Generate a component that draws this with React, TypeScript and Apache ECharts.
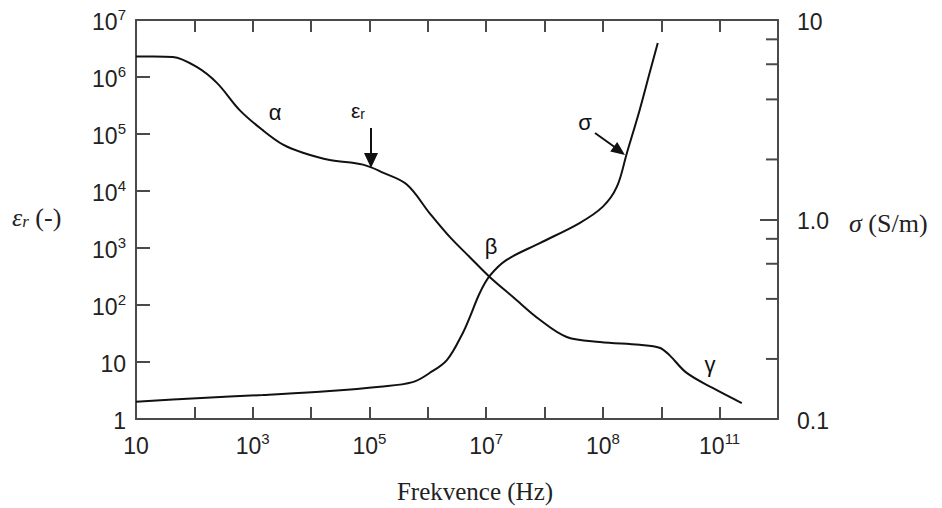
import React, { useEffect, useRef } from "react";
import * as echarts from "echarts";

// Frequency is stored as log10(f / Hz); the x axis runs in decades.
const X_MIN = 1;
const X_MAX = 12;

// Tick labels of the frequency axis, keyed by decade position.
const freqTickDecades = [1, 3, 5, 7, 9, 11];
const freqTickBase = ["10", "10", "10", "10", "10", "10"];
const freqTickExp = ["", "3", "5", "7", "8", "11"];

// Relative permittivity εr
const epsLogFreq = [
  1.0, 1.3, 1.63, 2.04, 2.39, 2.78, 3.17, 3.52, 3.86, 4.32, 4.89, 5.23, 5.64,
  6.03, 6.38, 6.72, 7.06, 7.46, 7.92, 8.38, 8.95, 9.63, 9.97, 10.14, 10.43,
  10.88, 11.38,
];
const epsValues = [
  2.3e6, 2.3e6, 2.25e6, 1.5e6, 7.8e5, 2.6e5, 1.17e5, 6.5e4, 4.7e4, 3.5e4,
  2.9e4, 2.1e4, 1.3e4, 4100, 1550, 690, 310, 138, 55, 27.5, 22.4, 20, 17.8,
  13.2, 6.5, 3.5, 1.9,
];

// Conductivity σ (S/m)
const sigmaLogFreq = [
  1.0, 2.04, 3.17, 4.32, 5.18, 5.74, 6.03, 6.33, 6.6, 6.72, 6.89, 7.06,
  7.35, 7.92, 8.6, 9.0, 9.24, 9.41, 9.63, 9.8, 9.94,
];
const sigmaValues = [
  0.122, 0.127, 0.132, 0.138, 0.145, 0.153, 0.17, 0.198, 0.27, 0.324,
  0.428, 0.521, 0.627, 0.762, 0.96, 1.16, 1.46, 2.15, 3.54, 5.42, 7.67,
];

// Intermediate ticks on the σ axis
const sigmaMinorTicks = [0.2, 0.4, 0.6, 0.8, 2, 4, 6, 8];

const AXIS_COLOR = "#4a4a4a";
const CURVE_COLOR = "#111";
const SANS = "'Liberation Sans', Arial, sans-serif";
const SERIF = "'Liberation Serif', 'Times New Roman', serif";

const tickRich = {
  b: { fontFamily: SANS, fontSize: 23, color: "#222", lineHeight: 26, verticalAlign: "bottom" as const },
  s: { fontFamily: SANS, fontSize: 15, color: "#222", lineHeight: 15, verticalAlign: "top" as const },
};

function powLabel(base: string, exp: string) {
  return exp ? `{b|${base}}{s|${exp}}` : `{b|${base}}`;
}

export default function App() {
  const ref = useRef<HTMLDivElement>(null);

  useEffect(() => {
    if (!ref.current) return;
    const chart = echarts.init(ref.current, undefined, { renderer: "svg" });

    const xLabel = (v: number) => {
      const i = freqTickDecades.indexOf(Math.round(v));
      if (i < 0 || Math.abs(v - freqTickDecades[i]) > 1e-6) return "";
      return powLabel(freqTickBase[i], freqTickExp[i]);
    };

    const epsLabel = (v: number) => {
      const e = Math.round(Math.log10(v));
      if (e === 0) return "{b|1}";
      if (e === 1) return "{b|10}";
      return powLabel("10", String(e));
    };

    const sigmaLabel = (v: number) => {
      if (Math.abs(v - 0.1) < 1e-9) return "{b|0.1}";
      if (Math.abs(v - 1) < 1e-9) return "{b|1.0}";
      if (Math.abs(v - 10) < 1e-9) return "{b|10}";
      return "";
    };

    const axisLine = { show: true, lineStyle: { color: AXIS_COLOR, width: 2 } };

    chart.setOption({
      animation: false,
      backgroundColor: "#fff",
      grid: { left: 136, right: 164, top: 20, bottom: 89, containLabel: false },
      xAxis: [
        {
          type: "value",
          min: X_MIN,
          max: X_MAX,
          interval: 1,
          position: "bottom",
          axisLine,
          axisTick: { show: true, inside: true, length: 12, lineStyle: { color: AXIS_COLOR, width: 2 } },
          axisLabel: {
            show: true,
            margin: 12,
            interval: 0,
            formatter: xLabel,
            rich: tickRich,
            showMinLabel: true,
            showMaxLabel: true,
          },
          splitLine: { show: false },
        },
        {
          type: "value",
          min: X_MIN,
          max: X_MAX,
          interval: 1,
          position: "top",
          axisLine,
          axisTick: { show: true, inside: true, length: 12, lineStyle: { color: AXIS_COLOR, width: 2 } },
          axisLabel: { show: false },
          splitLine: { show: false },
        },
      ],
      yAxis: [
        {
          type: "log",
          logBase: 10,
          min: 1,
          max: 1e7,
          splitNumber: 7,
          position: "left",
          axisLine,
          axisTick: { show: true, inside: true, length: 14, lineStyle: { color: AXIS_COLOR, width: 2 } },
          axisLabel: { show: true, margin: 10, formatter: epsLabel, rich: tickRich, showMinLabel: true, showMaxLabel: true },
          splitLine: { show: false },
        },
        {
          type: "log",
          logBase: 10,
          min: 0.1,
          max: 10,
          position: "right",
          axisLine,
          axisTick: { show: true, inside: true, length: 18, lineStyle: { color: AXIS_COLOR, width: 2 } },
          axisLabel: { show: true, margin: 19, formatter: sigmaLabel, rich: tickRich, showMinLabel: true, showMaxLabel: true },
          splitLine: { show: false },
        },
      ],
      series: [
        {
          name: "εr",
          type: "line",
          xAxisIndex: 0,
          yAxisIndex: 0,
          data: epsLogFreq.map((x, i) => [x, epsValues[i]]),
          showSymbol: false,
          smooth: 0.35,
          lineStyle: { color: CURVE_COLOR, width: 2 },
          z: 5,
        },
        {
          name: "σ",
          type: "line",
          xAxisIndex: 0,
          yAxisIndex: 1,
          data: sigmaLogFreq.map((x, i) => [x, sigmaValues[i]]),
          showSymbol: false,
          smooth: 0.35,
          lineStyle: { color: CURVE_COLOR, width: 2 },
          z: 5,
        },
        {
          name: "σ ticks",
          type: "custom",
          xAxisIndex: 0,
          yAxisIndex: 1,
          silent: true,
          clip: false,
          data: sigmaMinorTicks.map((v) => [X_MAX, v]),
          renderItem: (_params: any, api: any) => {
            const p = api.coord([api.value(0), api.value(1)]);
            return {
              type: "line",
              shape: { x1: p[0] - 12, y1: p[1], x2: p[0], y2: p[1] },
              style: { stroke: AXIS_COLOR, lineWidth: 2 },
            };
          },
          z: 3,
        },
      ],
      graphic: [
        // axis titles
        {
          type: "text",
          left: 12,
          top: 204,
          style: {
            text: "{i|ε}{sub|r}{n| (-)}",
            rich: {
              i: { fontFamily: SERIF, fontStyle: "italic", fontSize: 26, fill: "#222", lineHeight: 30, verticalAlign: "bottom" },
              sub: { fontFamily: SERIF, fontStyle: "italic", fontSize: 17, fill: "#222", lineHeight: 22, verticalAlign: "bottom" },
              n: { fontFamily: SERIF, fontSize: 26, fill: "#222", lineHeight: 30, verticalAlign: "bottom" },
            },
          },
        },
        {
          type: "text",
          left: 849,
          top: 210,
          style: {
            text: "{i|σ}{n| (S/m)}",
            rich: {
              i: { fontFamily: SERIF, fontStyle: "italic", fontSize: 26, fill: "#222", lineHeight: 30 },
              n: { fontFamily: SERIF, fontSize: 26, fill: "#222", lineHeight: 30 },
            },
          },
        },
        {
          type: "text",
          x: 475,
          y: 491,
          style: {
            text: "Frekvence (Hz)",
            font: `25px ${SERIF}`,
            fill: "#222",
            align: "center",
            verticalAlign: "middle",
          },
        },
        // curve annotations
        {
          type: "text",
          x: 275,
          y: 112,
          style: { text: "α", font: `22px ${SANS}`, fill: "#111", align: "center", verticalAlign: "middle" },
        },
        {
          type: "text",
          left: 351,
          top: 100,
          style: {
            text: "{g|ε}{sub|r}",
            rich: {
              g: { fontFamily: SANS, fontSize: 21, fill: "#111", lineHeight: 24, verticalAlign: "bottom" },
              sub: { fontFamily: SANS, fontSize: 14, fill: "#111", lineHeight: 12, verticalAlign: "bottom" },
            },
          },
        },
        {
          type: "line",
          shape: { x1: 371, y1: 128, x2: 371, y2: 156 },
          style: { stroke: "#111", lineWidth: 2 },
        },
        {
          type: "polygon",
          shape: { points: [[364, 153], [378, 153], [371, 168]] },
          style: { fill: "#111" },
        },
        {
          type: "text",
          x: 491,
          y: 246,
          style: { text: "β", font: `22px ${SANS}`, fill: "#111", align: "center", verticalAlign: "middle" },
        },
        {
          type: "text",
          x: 585,
          y: 122,
          style: { text: "σ", font: `22px ${SANS}`, fill: "#111", align: "center", verticalAlign: "middle" },
        },
        {
          type: "line",
          shape: { x1: 595, y1: 133, x2: 616, y2: 148 },
          style: { stroke: "#111", lineWidth: 2 },
        },
        {
          type: "polygon",
          shape: { points: [[625, 155], [610.2, 151.5], [617.2, 141.9]] },
          style: { fill: "#111" },
        },
        {
          type: "text",
          x: 710,
          y: 364,
          style: { text: "γ", font: `22px ${SANS}`, fill: "#111", align: "center", verticalAlign: "middle" },
        },
      ],
    });

    return () => chart.dispose();
  }, []);

  return (
    <div
      ref={ref}
      style={{ position: "fixed", left: 0, top: 0, width: 942, height: 508, background: "#fff" }}
    />
  );
}
